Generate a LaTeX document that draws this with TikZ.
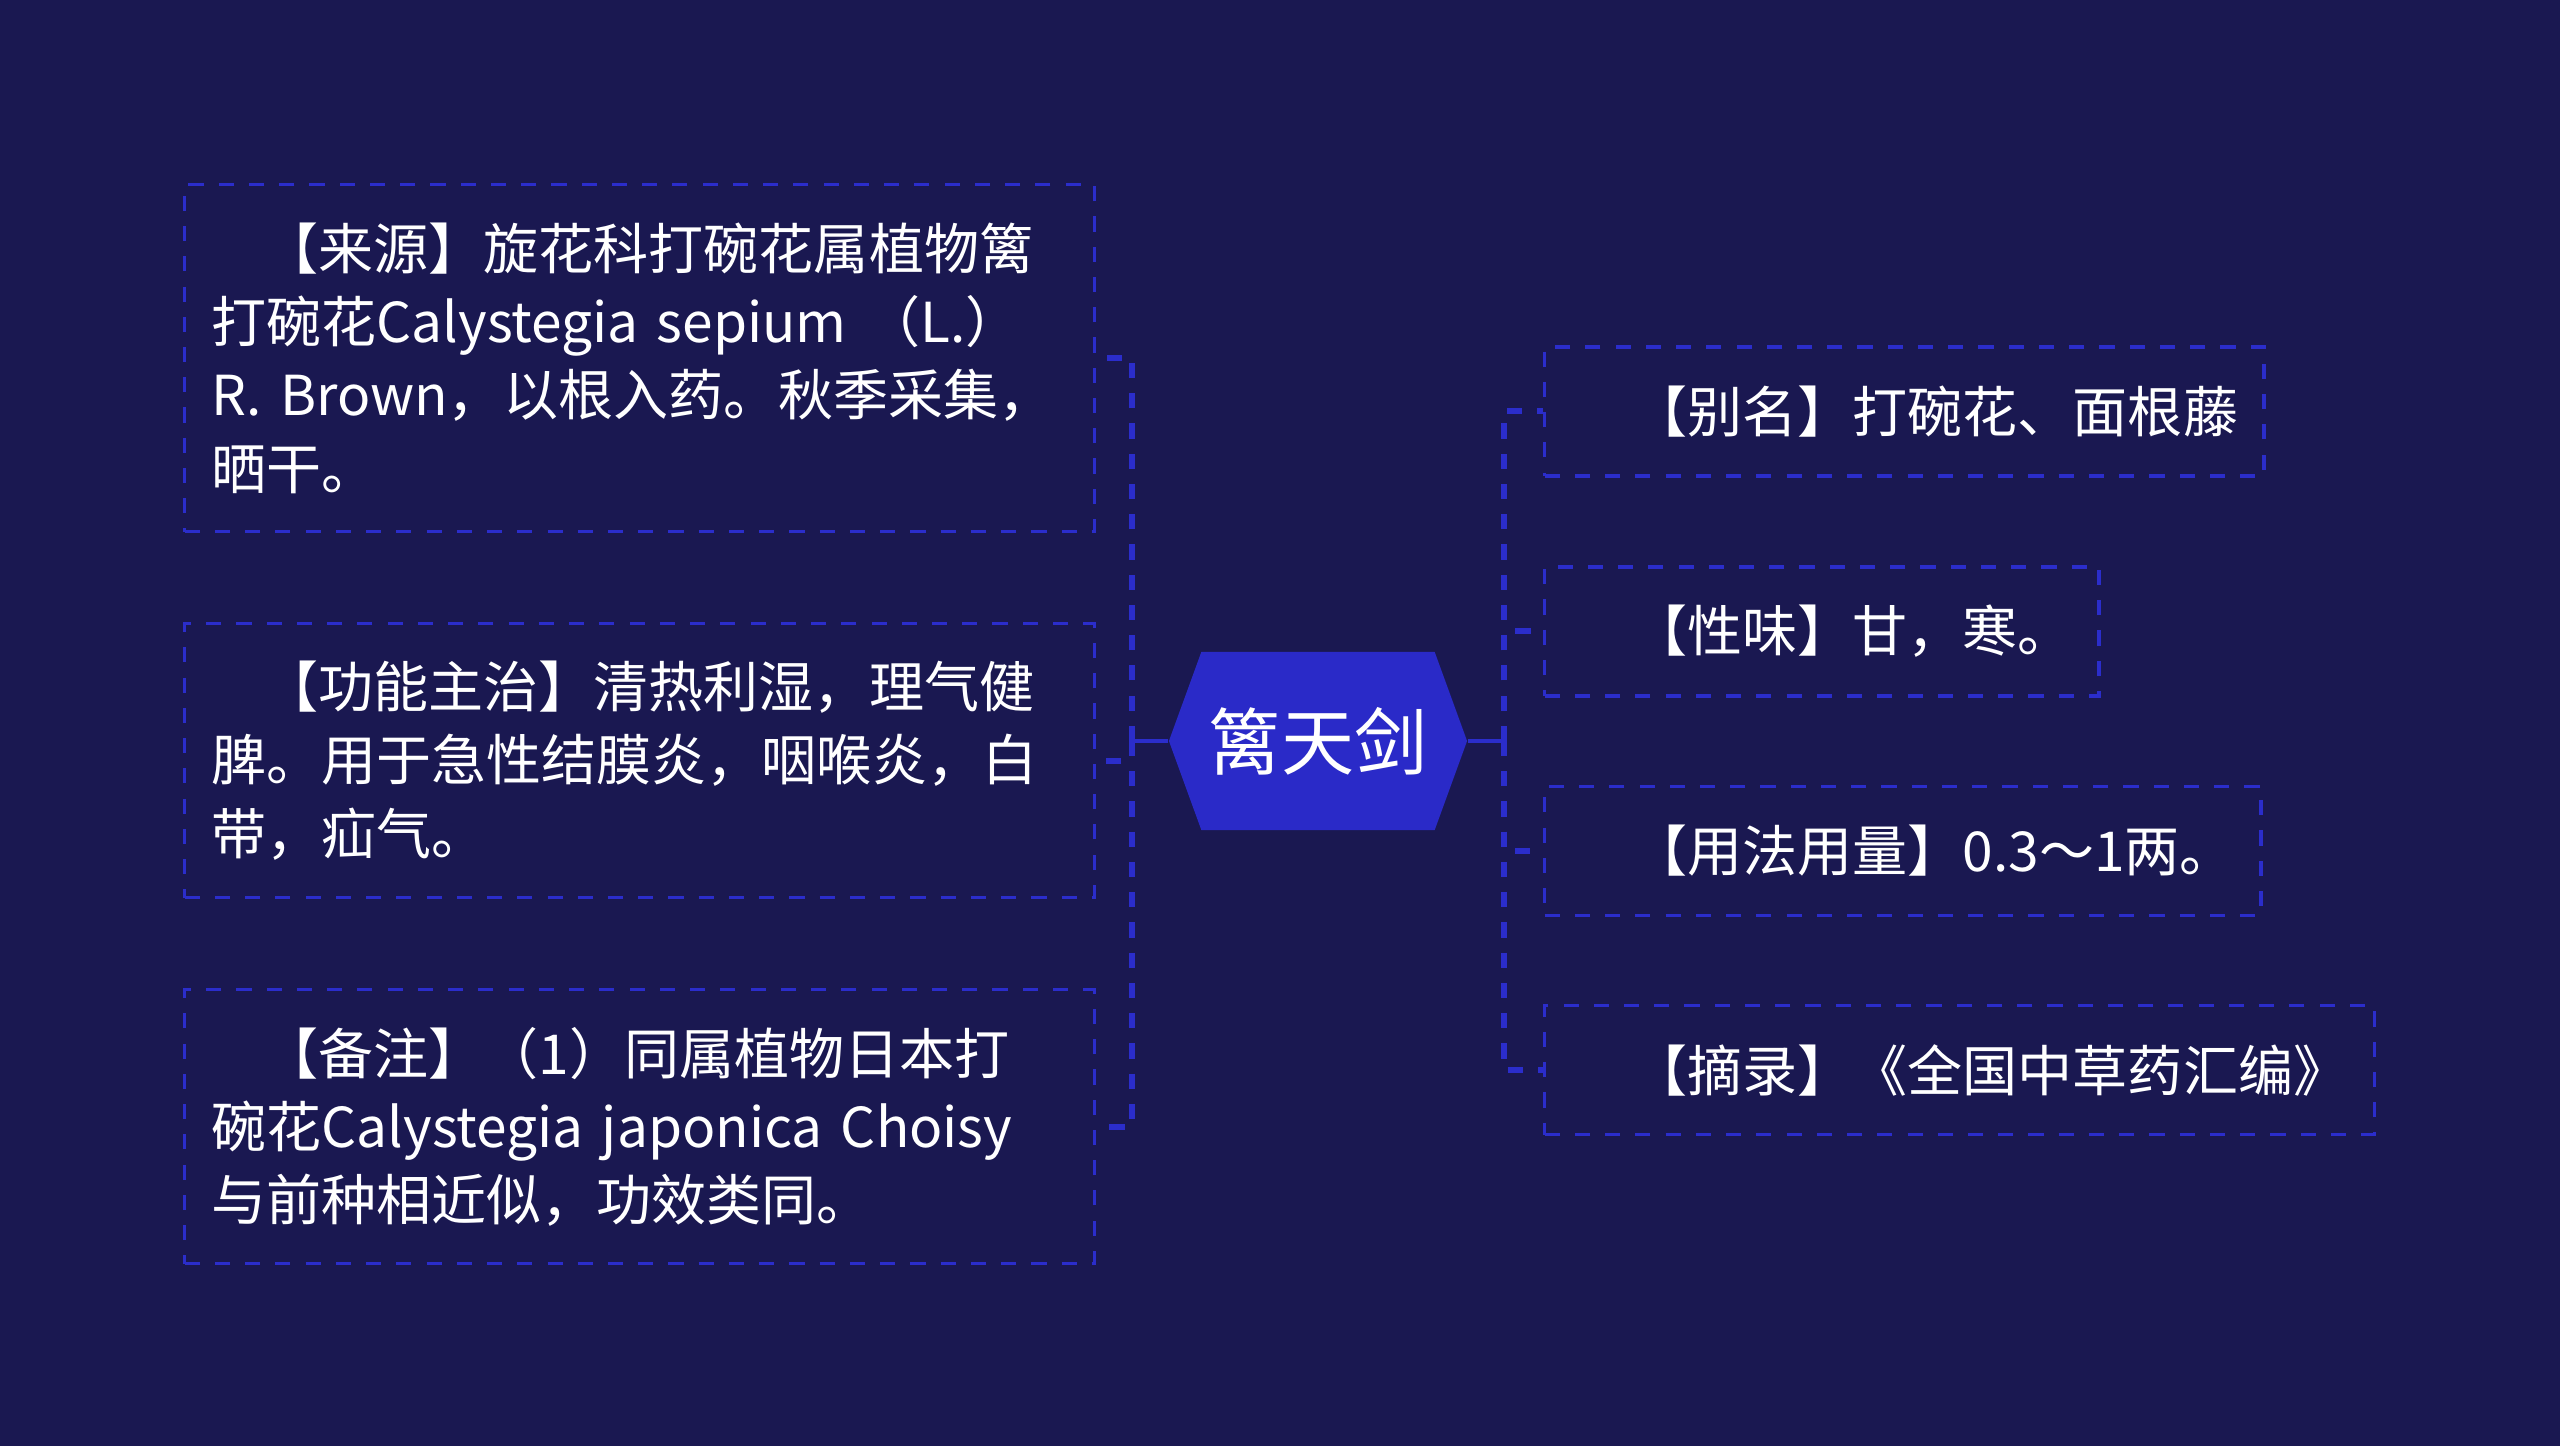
\documentclass[tikz,border=0pt]{standalone}
\usepackage{fontspec}
\setmainfont{Noto Sans CJK SC}
\usetikzlibrary{shapes.symbols}
\definecolor{nightbg}{HTML}{1A1851}
\definecolor{lineblue}{HTML}{2B2DCB}
\definecolor{hexblue}{HTML}{2A2AC8}

\begin{document}
\begin{tikzpicture}[x=0.01cm,y=0.01cm,
      leaf/.style={draw=lineblue,line width=0.9pt,dash pattern=on 4.3pt off 4.3pt,
        text=white,inner ysep=0pt,font=\fontsize{15.65}{20.8}\selectfont},
      block/.style={leaf,anchor=north west,align=left,text width=8.55cm,inner xsep=0.27cm},
      tag/.style={leaf,anchor=west,inner xsep=0.26cm,minimum height=1.29cm},
      root/.style={signal,signal to=west and east,signal pointer angle=140,fill=hexblue,
        text=white,minimum width=2.98cm,minimum height=1.78cm,inner sep=0pt,
        font=\fontsize{20.8}{24}\selectfont},
      stem/.style={lineblue,line width=1.2pt},
      twig/.style={lineblue,line width=1.7pt,dash pattern=on 4.3pt off 4.3pt}]
    % canvas
    \fill[nightbg] (0,0) rectangle (2560,1446);
    \useasboundingbox (0,0) rectangle (2560,1446);

    % centre topic
    \node[root] (herb) at (1318,705) {篱天剑};

    % left branch
    \node[block,minimum height=3.47cm] (origin) at (183,1263)
      {\hspace*{0.52cm}【来源】旋花科打碗花属植物篱\\打碗花Calystegia sepium （L.）\\R. Brown，以根入药。秋季采集，\\晒干。};
    \node[block,minimum height=2.74cm] (usage) at (183,824)
      {\hspace*{0.52cm}【功能主治】清热利湿，理气健\\脾。用于急性结膜炎，咽喉炎，白\\带，疝气。};
    \node[block,minimum height=2.74cm] (remark) at (183,458)
      {\hspace*{0.52cm}【备注】（1）同属植物日本打\\碗花Calystegia japonica Choisy\\与前种相近似，功效类同。};

    % right branch
    \node[tag] (alias) at (1543,1034.5) {\hspace*{0.62cm}【别名】打碗花、面根藤};
    \node[tag] (taste) at (1543,814.5)  {\hspace*{0.62cm}【性味】甘，寒。};
    \node[tag] (dose)  at (1543,595)    {\hspace*{0.62cm}【用法用量】0.3～1两。};
    \node[tag] (quote) at (1543,376)    {\hspace*{0.62cm}【摘录】《全国中草药汇编》};

    % connectors
    \coordinate (ljoint) at (1132,705);
    \coordinate (rjoint) at (1504,705);
    \draw[stem] (herb.west) -- (ljoint);
    \draw[stem] (herb.east) -- (rjoint);
    \foreach \leafname in {origin,usage,remark}
      \draw[twig] (ljoint) |- (\leafname.east);
    \foreach \leafname in {alias,taste,dose,quote}
      \draw[twig] (rjoint) |- (\leafname.west);
  \end{tikzpicture}
\end{document}
